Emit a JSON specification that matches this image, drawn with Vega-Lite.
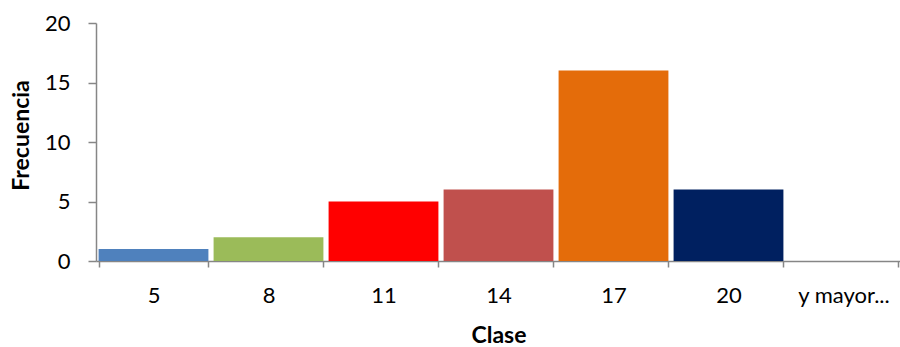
{
  "$schema": "https://vega.github.io/schema/vega-lite/v6.json",
  "width": 805,
  "height": 238,
  "autosize": {"type": "none"},
  "padding": {"left": 96, "top": 23, "right": 0, "bottom": 86},
  "background": "white",
  "data": {
    "values": [
      {"clase": "5", "frecuencia": 1},
      {"clase": "8", "frecuencia": 2},
      {"clase": "11", "frecuencia": 5},
      {"clase": "14", "frecuencia": 6},
      {"clase": "17", "frecuencia": 16},
      {"clase": "20", "frecuencia": 6},
      {"clase": "y mayor...", "frecuencia": 0}
    ]
  },
  "mark": {"type": "bar"},
  "encoding": {
    "x": {
      "field": "clase",
      "type": "nominal",
      "sort": null,
      "scale": {"paddingInner": 0.045, "paddingOuter": 0.0225},
      "axis": {
        "title": "Clase",
        "labelAngle": 0,
        "tickBand": "extent",
        "tickSize": 6,
        "labelPadding": 18,
        "titlePadding": 18
      }
    },
    "y": {
      "field": "frecuencia",
      "type": "quantitative",
      "scale": {"domain": [0, 20]},
      "axis": {
        "title": "Frecuencia",
        "values": [0, 5, 10, 15, 20],
        "tickSize": 8,
        "labelPadding": 18,
        "titlePadding": 11,
        "titleY": 112
      }
    },
    "color": {
      "field": "clase",
      "type": "nominal",
      "scale": {
        "domain": ["5", "8", "11", "14", "17", "20", "y mayor..."],
        "range": ["#4F81BD", "#9BBB59", "#FF0000", "#C0504D", "#E46C0A", "#002060", "#4F81BD"]
      },
      "legend": null
    }
  },
  "config": {
    "view": {"stroke": null},
    "axis": {
      "grid": false,
      "domainColor": "#868686",
      "tickColor": "#868686",
      "domainWidth": 1.5,
      "tickWidth": 1.5,
      "labelFont": "Lato",
      "labelFontSize": 22,
      "labelColor": "#000000",
      "titleFont": "Lato",
      "titleFontSize": 23,
      "titleFontWeight": "bold",
      "titleColor": "#000000"
    }
  }
}
